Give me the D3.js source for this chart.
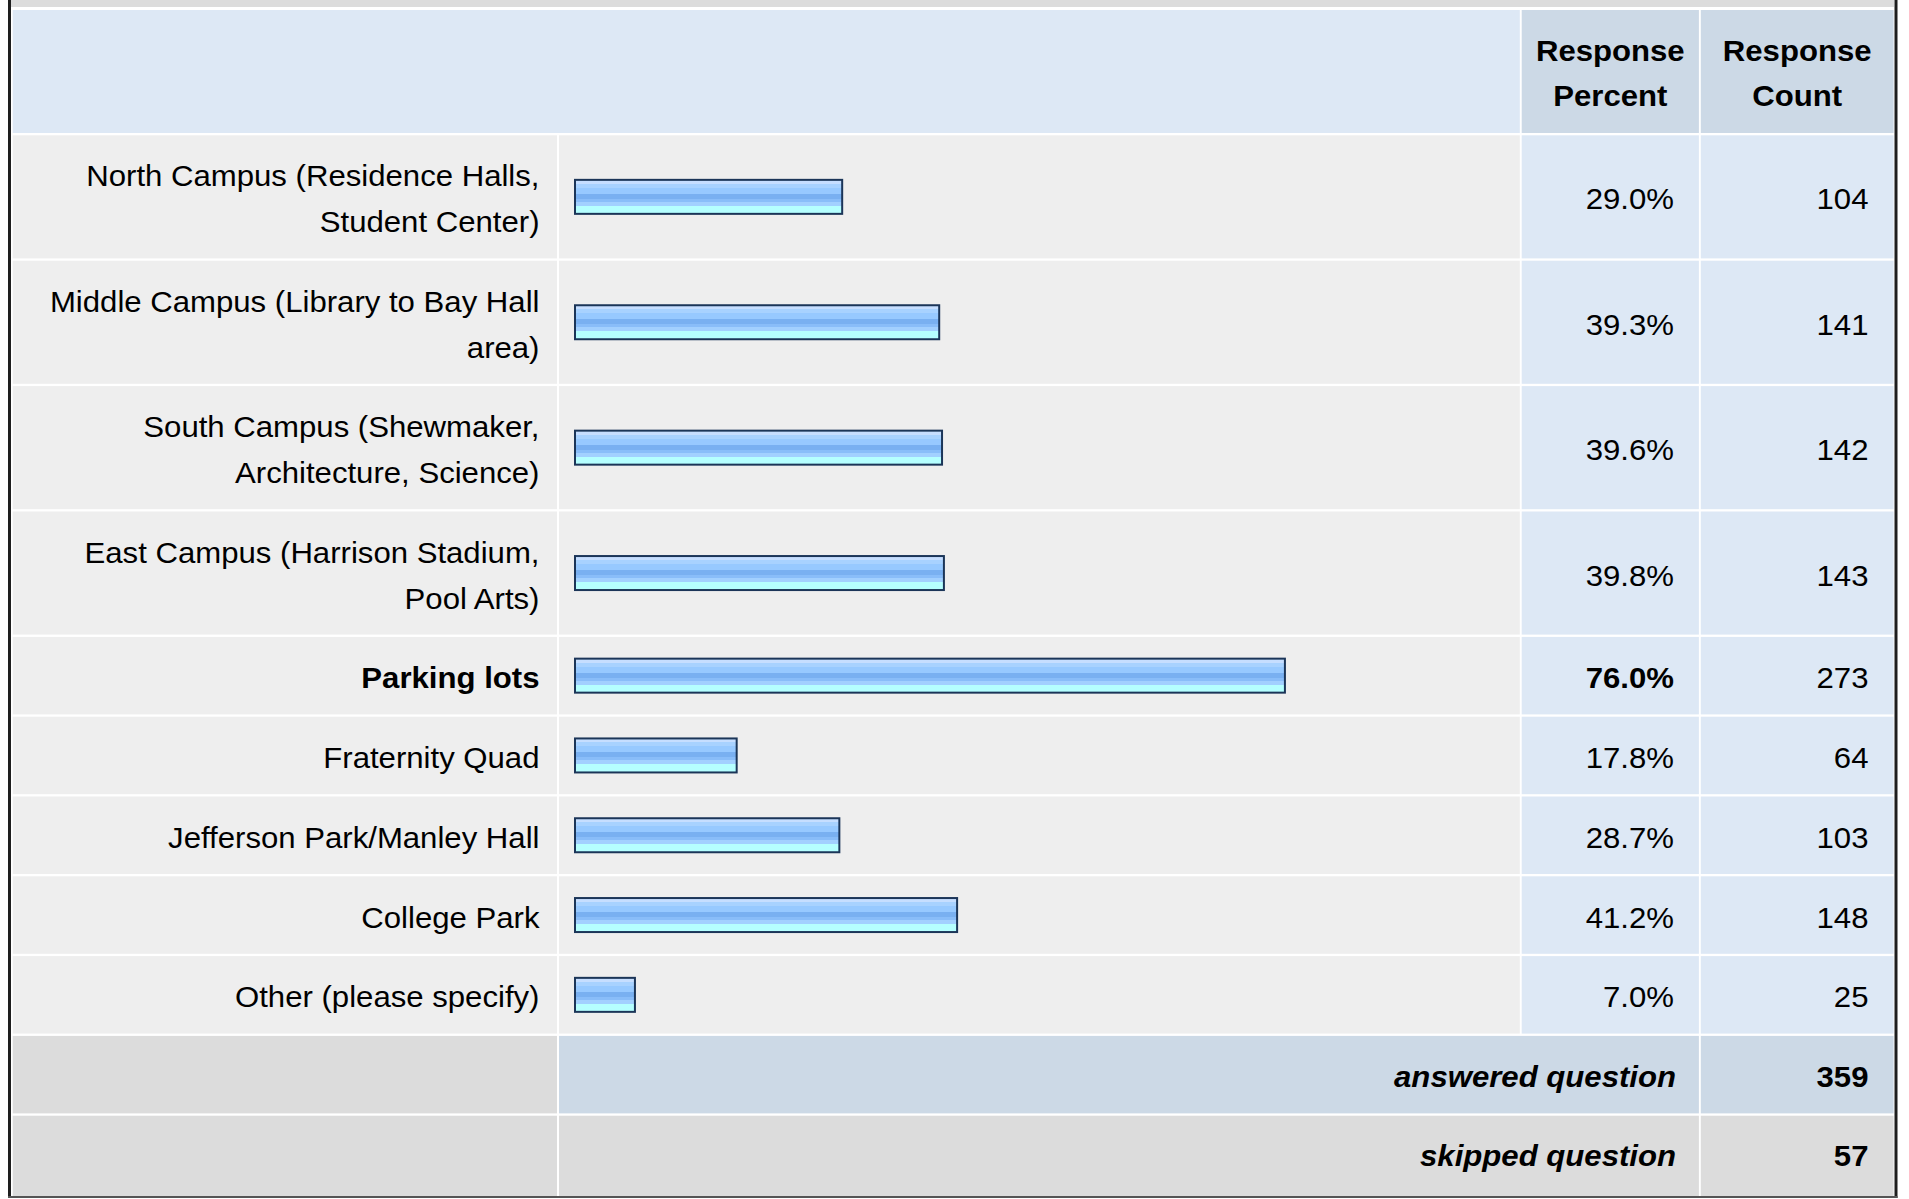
<!DOCTYPE html>
<html>
<head>
<meta charset="utf-8">
<script src="https://cdn.jsdelivr.net/npm/d3@7"></script>
<style>
  html, body { margin: 0; padding: 0; background: #ffffff; }
  svg { display: block; }
  text { font-family: "Liberation Sans", Arimo, Arial, Helvetica, sans-serif; fill: #000; }
</style>
</head>
<body>
<svg id="chart" width="1909" height="1199"></svg>
<script>
// ---- data ----
const categories = [
  "North Campus (Residence Halls,\nStudent Center)",
  "Middle Campus (Library to Bay Hall\narea)",
  "South Campus (Shewmaker,\nArchitecture, Science)",
  "East Campus (Harrison Stadium,\nPool Arts)",
  "Parking lots",
  "Fraternity Quad",
  "Jefferson Park/Manley Hall",
  "College Park",
  "Other (please specify)"
];
const percents = [29.0, 39.3, 39.6, 39.8, 76.0, 17.8, 28.7, 41.2, 7.0];
const counts = [104, 141, 142, 143, 273, 64, 103, 148, 25];
const headerPercent = ["Response", "Percent"];
const headerCount = ["Response", "Count"];
const footerLabels = ["answered question", "skipped question"];
const footerValues = [359, 57];

// ---- layout ----
const svg = d3.select("#chart");
const FONT = 30;
const SX = 1.038; // horizontal stretch of the reference text
const colLabel = [12.7, 557];
const colBar = [559, 1519.8];
const colPct = [1521.7, 1698.9];
const colCnt = [1700.8, 1893.6];
const labelRight = 539.5, pctRight = 1674, cntRight = 1868.5;
const gap = 2.3;
const twoLineH = 123.1, oneLineH = 77.5;

const C = {
  strip: "#dcdcdc", head: "#dde8f5", headDark: "#ccd9e6",
  row: "#eeeeee", val: "#dde8f5", footGray: "#dcdcdc", footBlue: "#ccd9e6",
  barStroke: "#1b3558"
};

function addText(parent, x, y, txt, anchor, opts) {
  opts = opts || {};
  return parent.append("text")
    .attr("transform", `translate(${x},${y}) scale(${SX},1)`)
    .attr("x", 0).attr("y", 0)
    .attr("text-anchor", anchor)
    .attr("font-size", FONT)
    .attr("font-weight", opts.bold ? "bold" : "normal")
    .attr("font-style", opts.italic ? "italic" : "normal")
    .text(txt);
}

// gradient for bars
const defs = svg.append("defs");
const grad = defs.append("linearGradient").attr("id", "barGrad")
  .attr("x1", 0).attr("y1", 0).attr("x2", 0).attr("y2", 1);
const bands = [
  [0.00, 0.118, "#c6deff"],
  [0.118, 0.235, "#a8d2ff"],
  [0.235, 0.412, "#97c9ff"],
  [0.412, 0.559, "#79b0f1"],
  [0.559, 0.647, "#89bdf9"],
  [0.647, 0.765, "#a2d0ff"],
  [0.765, 1.00, "#b5ffff"]
];
bands.forEach(b => {
  grad.append("stop").attr("offset", b[0]).attr("stop-color", b[2]);
  grad.append("stop").attr("offset", b[1]).attr("stop-color", b[2]);
});

// top strip
svg.append("rect").attr("x", 11).attr("y", 0).attr("width", 1883).attr("height", 7).attr("fill", C.strip);

// header
const headY = 10, headH = 123;
svg.append("rect").attr("x", colLabel[0]).attr("y", headY).attr("width", colBar[1] - colLabel[0]).attr("height", headH).attr("fill", C.head);
svg.append("rect").attr("x", colPct[0]).attr("y", headY).attr("width", colPct[1] - colPct[0]).attr("height", headH).attr("fill", C.headDark);
svg.append("rect").attr("x", colCnt[0]).attr("y", headY).attr("width", colCnt[1] - colCnt[0]).attr("height", headH).attr("fill", C.headDark);
const headCenter = headY + headH / 2;
[[headerPercent, (colPct[0] + colPct[1]) / 2], [headerCount, (colCnt[0] + colCnt[1]) / 2]].forEach(([lines, cx]) => {
  lines.forEach((t, i) => {
    addText(svg, cx, headCenter - 11 + i * 45.5, t, "middle", { bold: true });
  });
});

// rows
const rows = categories.map((c, i) => ({
  lines: c.split("\n"), pct: percents[i], cnt: counts[i]
}));
let y = headY + headH + gap;
rows.forEach(r => {
  r.y = y;
  r.h = r.lines.length > 1 ? twoLineH : oneLineH;
  y += r.h + gap;
});
const footY0 = y;

const maxPct = d3.max(percents);
const barX0 = 574;
const x = d3.scaleLinear().domain([0, 100]).range([barX0 - 4, barX0 + 938]);
const barH = 36;

const g = svg.append("g");
const rg = g.selectAll("g.row").data(rows).join("g").attr("class", "row");
rg.append("rect").attr("x", colLabel[0]).attr("y", d => d.y).attr("width", colLabel[1] - colLabel[0]).attr("height", d => d.h).attr("fill", C.row);
rg.append("rect").attr("x", colBar[0]).attr("y", d => d.y).attr("width", colBar[1] - colBar[0]).attr("height", d => d.h).attr("fill", C.row);
rg.append("rect").attr("x", colPct[0]).attr("y", d => d.y).attr("width", colPct[1] - colPct[0]).attr("height", d => d.h).attr("fill", C.val);
rg.append("rect").attr("x", colCnt[0]).attr("y", d => d.y).attr("width", colCnt[1] - colCnt[0]).attr("height", d => d.h).attr("fill", C.val);

rg.each(function(d) {
  const sel = d3.select(this);
  const cy = d.y + d.h / 2;
  const bold = d.pct === maxPct;
  // labels
  if (d.lines.length === 1) {
    addText(sel, labelRight, cy + 12.5, d.lines[0], "end", { bold });
  } else {
    d.lines.forEach((t, i) => addText(sel, labelRight, cy - 10.5 + i * 46, t, "end", { bold }));
  }
  // bar
  const w = x(d.pct) - barX0;
  sel.append("rect").attr("x", barX0 + 1).attr("y", cy - barH / 2 + 1)
    .attr("width", w - 2).attr("height", barH - 2)
    .attr("fill", "url(#barGrad)").attr("stroke", C.barStroke).attr("stroke-width", 2);
  // values
  addText(sel, pctRight, cy + 12.5, d3.format(".1f")(d.pct) + "%", "end", { bold });
  addText(sel, cntRight, cy + 12.5, d.cnt, "end");
});

// footer rows
footerLabels.forEach((lab, i) => {
  const fy = footY0 + i * (oneLineH + gap);
  const fh = i === footerLabels.length - 1 ? 1196 - fy : oneLineH;
  const mid = i === 0 ? C.footBlue : C.footGray;
  svg.append("rect").attr("x", colLabel[0]).attr("y", fy).attr("width", colLabel[1] - colLabel[0]).attr("height", fh).attr("fill", C.footGray);
  svg.append("rect").attr("x", colBar[0]).attr("y", fy).attr("width", colPct[1] - colBar[0]).attr("height", fh).attr("fill", mid);
  svg.append("rect").attr("x", colCnt[0]).attr("y", fy).attr("width", colCnt[1] - colCnt[0]).attr("height", fh).attr("fill", mid);
  const cy = fy + oneLineH / 2;
  addText(svg, 1676, cy + 12, lab, "end", { bold: true, italic: true });
  addText(svg, cntRight, cy + 12, footerValues[i], "end", { bold: true });
});

// frame borders
svg.append("rect").attr("x", 8).attr("y", 0).attr("width", 3).attr("height", 1198).attr("fill", "#1e1e1e");
svg.append("rect").attr("x", 1894.5).attr("y", 0).attr("width", 3).attr("height", 1198).attr("fill", "#1e1e1e");
svg.append("rect").attr("x", 8).attr("y", 1196).attr("width", 1889.5).attr("height", 2).attr("fill", "#555");
</script>
</body>
</html>
